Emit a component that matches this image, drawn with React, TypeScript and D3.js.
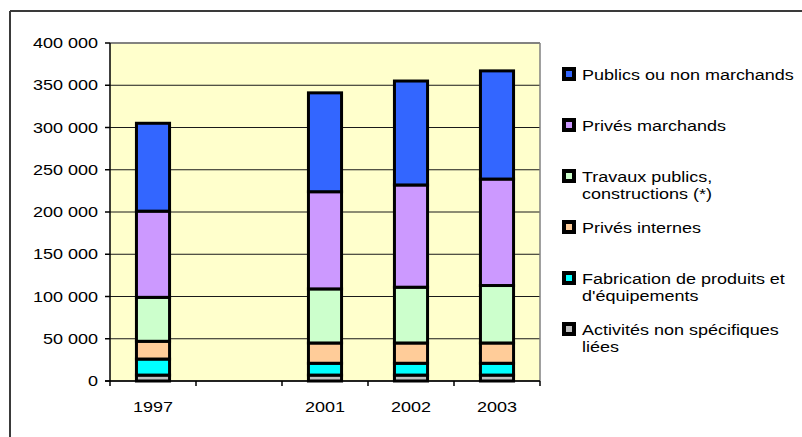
import React from "react";
import * as d3 from "d3";

// Categories along the x axis (the blank slot keeps the gap after 1997)
const categories: string[] = ["1997", "", "2001", "2002", "2003"];

// Stacked series, bottom to top
const activitesNonSpecifiques: (number | null)[] = [7000, null, 7000, 7000, 7000];
const fabrication: (number | null)[] = [19000, null, 14000, 14000, 14000];
const privesInternes: (number | null)[] = [21000, null, 24000, 24000, 24000];
const travauxPublics: (number | null)[] = [52000, null, 64000, 66000, 68000];
const privesMarchands: (number | null)[] = [102000, null, 115000, 121000, 126000];
const publicsNonMarchands: (number | null)[] = [104000, null, 117000, 123000, 128000];

const yTicks: number[] = [0, 50000, 100000, 150000, 200000, 250000, 300000, 350000, 400000];

const seriesNames: string[][] = [
  ["Activités non spécifiques", "liées"],
  ["Fabrication de produits et", "d'équipements"],
  ["Privés internes"],
  ["Travaux publics,", "constructions (*)"],
  ["Privés marchands"],
  ["Publics ou non marchands"],
];
const seriesValues = [
  activitesNonSpecifiques,
  fabrication,
  privesInternes,
  travauxPublics,
  privesMarchands,
  publicsNonMarchands,
];
const seriesColors = ["#C0C0C0", "#00FFFF", "#FFCC99", "#CCFFCC", "#CC99FF", "#3366FF"];

const W = 802;
const H = 437;
const plot = { left: 110, right: 540, top: 43, bottom: 381 };
const FONT = "'Liberation Sans', Arial, sans-serif";
const FS = 15;
const SX = 1.2;

const fmt = d3
  .formatLocale({ decimal: ",", thousands: " ", grouping: [3], currency: ["", ""] })
  .format(",");

function Label(props: { x: number; y: number; anchor?: string; children: React.ReactNode }) {
  return (
    <text
      transform={`translate(${props.x},${props.y}) scale(${SX},1)`}
      textAnchor={props.anchor || "start"}
      fontFamily={FONT}
      fontSize={FS}
      fill="#000"
    >
      {props.children}
    </text>
  );
}

export default function App() {
  const x = d3.scaleBand<string>().domain(categories.map((c, i) => i + ":" + c)).range([plot.left, plot.right]).padding(0);
  const y = d3.scaleLinear().domain([0, 400000]).range([plot.bottom, plot.top]);

  const rows = categories.map((c, i) => {
    const row: Record<string, number> = {};
    seriesValues.forEach((s, k) => (row["s" + k] = s[i] ?? 0));
    return row;
  });
  const stack = d3.stack<Record<string, number>>().keys(seriesValues.map((_, k) => "s" + k));
  const stacked = stack(rows);

  const barW = x.bandwidth() * 0.385;
  const keys = categories.map((c, i) => i + ":" + c);

  const legendX = 562;
  const legendY0 = 74;
  const legendStep = 51;
  const legendOrder = [5, 4, 3, 2, 1, 0];

  return (
    <div style={{ position: "fixed", left: 0, top: 0 }}>
      <svg width={W} height={H} style={{ display: "block", background: "#fff" }}>
        {/* chart frame */}
        <line x1={10} y1={11} x2={W} y2={11} stroke="#3a3a3a" strokeWidth={2} />
        <line x1={10} y1={11} x2={10} y2={H} stroke="#3a3a3a" strokeWidth={2} />

        {/* plot area */}
        <rect x={plot.left} y={plot.top} width={plot.right - plot.left} height={plot.bottom - plot.top} fill="#FFFFCC" />
        {yTicks.map((t) => (
          <line key={"g" + t} x1={plot.left} x2={plot.right} y1={y(t)} y2={y(t)} stroke="#1a1a1a" strokeWidth={1} />
        ))}
        <line x1={plot.right} x2={plot.right} y1={plot.top} y2={plot.bottom} stroke="#808080" strokeWidth={1.5} />
        <line x1={plot.left} x2={plot.right} y1={plot.top} y2={plot.top} stroke="#808080" strokeWidth={1.5} />

        {/* bars */}
        {stacked.map((layer, k) =>
          layer.map((d, i) => {
            if (seriesValues[k][i] == null) return null;
            const cx = (x(keys[i]) as number) + x.bandwidth() / 2;
            const y0 = y(d[0]);
            const y1 = y(d[1]);
            return (
              <rect
                key={k + "-" + i}
                x={cx - barW / 2}
                y={y1}
                width={barW}
                height={y0 - y1}
                fill={seriesColors[k]}
                stroke="#000"
                strokeWidth={3}
              />
            );
          })
        )}

        {/* axes */}
        <line x1={plot.left} x2={plot.left} y1={plot.top} y2={plot.bottom} stroke="#000" strokeWidth={1.5} />
        <line x1={plot.left - 5} x2={plot.right} y1={plot.bottom} y2={plot.bottom} stroke="#000" strokeWidth={1.5} />
        {yTicks.map((t) => (
          <g key={"t" + t}>
            <line x1={plot.left - 5} x2={plot.left} y1={y(t)} y2={y(t)} stroke="#000" strokeWidth={1.5} />
            <Label x={98} y={y(t) + 5} anchor="end">{fmt(t)}</Label>
          </g>
        ))}
        {keys.map((k, i) => (
          <line key={"xt" + i} x1={x(k) as number} x2={x(k) as number} y1={plot.bottom} y2={plot.bottom + 5} stroke="#000" strokeWidth={1.5} />
        ))}
        <line x1={plot.right} x2={plot.right} y1={plot.bottom} y2={plot.bottom + 5} stroke="#000" strokeWidth={1.5} />
        {keys.map((k, i) => (
          <Label key={"xl" + i} x={(x(k) as number) + x.bandwidth() / 2} y={412} anchor="middle">
            {categories[i]}
          </Label>
        ))}

        {/* legend */}
        {legendOrder.map((k, j) => {
          const cy = legendY0 + j * legendStep;
          return (
            <g key={"lg" + k}>
              <rect x={legendX + 2} y={cy - 5} width={10} height={10} fill={seriesColors[k]} stroke="#000" strokeWidth={4} />
              {seriesNames[k].map((line, li) => (
                <Label key={li} x={legendX + 20} y={cy + 6 + li * 17}>
                  {line}
                </Label>
              ))}
            </g>
          );
        })}
      </svg>
    </div>
  );
}
